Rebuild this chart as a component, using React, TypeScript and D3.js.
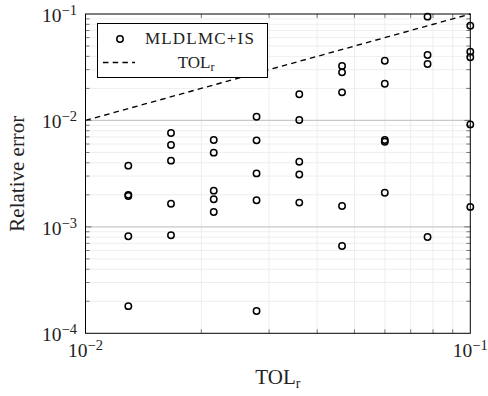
import React from "react";
import * as d3 from "d3";

// Relative tolerance levels (x) and the relative errors measured at each one (y)
const tolLevels = [0.01292, 0.01668, 0.02154, 0.02783, 0.03594, 0.04642, 0.05995, 0.07743, 0.1];
const relErrors: number[][] = [
  [0.00376, 0.00200, 0.00195, 0.000815, 0.00018],
  [0.00762, 0.00588, 0.00419, 0.00165, 0.000834],
  [0.00655, 0.00498, 0.00219, 0.00182, 0.00138],
  [0.01084, 0.0065, 0.00318, 0.00178, 0.000162],
  [0.01762, 0.01009, 0.00409, 0.0031, 0.00169],
  [0.0325, 0.0283, 0.01836, 0.00157, 0.000661],
  [0.0364, 0.0221, 0.00655, 0.00631, 0.00209],
  [0.0944, 0.0412, 0.0339, 0.000804],
  [0.0776, 0.0443, 0.0392, 0.00918, 0.00154],
];
const xTickExps = [-2, -1];
const yTickExps = [-4, -3, -2, -1];
const seriesLabel = "MLDLMC+IS";

const W = 488;
const H = 396;
const left = 85.5;
const right = 470.3;
const top = 14;
const bottom = 333.3;

const FONT = "'Liberation Serif', 'Times New Roman', serif";
const DASH = "5.5,4.2";

export default function App() {
  const x = d3.scaleLog().domain([1e-2, 1e-1]).range([left, right]);
  const y = d3.scaleLog().domain([1e-4, 1e-1]).range([bottom, top]);

  const yMinor: number[] = [];
  for (let e = -4; e <= -2; e++) for (let k = 2; k <= 9; k++) yMinor.push(k * Math.pow(10, e));
  const yMajorInner = [1e-3, 1e-2];
  const xMinor: number[] = [];
  for (let k = 2; k <= 9; k++) xMinor.push(k * 1e-2);

  const points: { tx: number; e: number }[] = [];
  tolLevels.forEach((t, i) => relErrors[i].forEach((e) => points.push({ tx: t, e })));

  const refLine = d3
    .line<number>()
    .x((d) => x(d))
    .y((d) => y(d))([1e-2, 1e-1]);

  const tickColor = "#444";

  return (
    <svg
      width={W}
      height={H}
      style={{ position: "absolute", left: 0, top: 0, background: "#fff" }}
      fontFamily={FONT}
    >
      <rect x={0} y={0} width={W} height={H} fill="#fff" />
      {/* grid */}
      <g>
        {yMinor.map((v, i) => (
          <line key={"ym" + i} x1={left} x2={right} y1={y(v)} y2={y(v)} stroke="#ececec" strokeWidth={0.9} />
        ))}
        {xMinor.map((v, i) => (
          <line key={"xm" + i} x1={x(v)} x2={x(v)} y1={top} y2={bottom} stroke="#ececec" strokeWidth={0.9} />
        ))}
        {yMajorInner.map((v, i) => (
          <line key={"yM" + i} x1={left} x2={right} y1={y(v)} y2={y(v)} stroke="#c8c8c8" strokeWidth={1.2} />
        ))}
      </g>

      {/* reference line TOL_r */}
      <path d={refLine || ""} fill="none" stroke="#000" strokeWidth={1.35} strokeDasharray={DASH} />

      {/* ticks */}
      <g stroke={tickColor} strokeWidth={0.7}>
        {yMinor.map((v, i) => (
          <g key={"yt" + i}>
            <line x1={left} x2={left + 4} y1={y(v)} y2={y(v)} />
            <line x1={right - 4} x2={right} y1={y(v)} y2={y(v)} />
          </g>
        ))}
        {yMajorInner.map((v, i) => (
          <g key={"yT" + i}>
            <line x1={left} x2={left + 6} y1={y(v)} y2={y(v)} />
            <line x1={right - 6} x2={right} y1={y(v)} y2={y(v)} />
          </g>
        ))}
        {xMinor.map((v, i) => (
          <g key={"xt" + i}>
            <line x1={x(v)} x2={x(v)} y1={bottom} y2={bottom - 4} />
            <line x1={x(v)} x2={x(v)} y1={top} y2={top + 4} />
          </g>
        ))}
      </g>

      {/* frame */}
      <rect x={left} y={top} width={right - left} height={bottom - top} fill="none" stroke="#000" strokeWidth={1} />

      {/* tick labels */}
      {yTickExps.map((e) => (
        <text key={"yl" + e} x={77} y={y(Math.pow(10, e)) + 8} textAnchor="end" fontSize={19.5} fill="#222">
          10
          <tspan fontSize={14.5} dy={-7}>
            {"\u2212" + Math.abs(e)}
          </tspan>
        </text>
      ))}
      {xTickExps.map((e) => (
        <text key={"xl" + e} x={x(Math.pow(10, e))} y={356.7} textAnchor="middle" fontSize={19.5} fill="#222">
          10
          <tspan fontSize={14.5} dy={-7}>
            {"\u2212" + Math.abs(e)}
          </tspan>
        </text>
      ))}

      {/* axis labels */}
      <text x={(left + right) / 2} y={384.3} textAnchor="middle" fontSize={21} fill="#222">
        TOL
        <tspan fontSize={14} dy={3.5}>
          r
        </tspan>
      </text>
      <text
        transform={`translate(24,${(top + bottom) / 2}) rotate(-90)`}
        textAnchor="middle"
        fontSize={21}
        fill="#222"
      >
        Relative error
      </text>

      {/* legend */}
      <g>
        <rect x={97.5} y={23.5} width={170} height={54} fill="#fff" stroke="#000" strokeWidth={1} />
        <circle cx={120} cy={39} r={3.2} fill="none" stroke="#000" strokeWidth={1.5} />
        <text x={200} y={44} textAnchor="middle" fontSize={17} letterSpacing={1.2} fill="#222">
          {seriesLabel}
        </text>
        <line x1={103} x2={135} y1={62.5} y2={62.5} stroke="#000" strokeWidth={1.35} strokeDasharray={DASH} />
        <text x={196} y={67.7} textAnchor="middle" fontSize={17} fill="#222">
          TOL
          <tspan fontSize={12} dy={3}>
            r
          </tspan>
        </text>
      </g>

      {/* data markers */}
      <g>
        {points.map((p, i) => (
          <circle key={"p" + i} cx={x(p.tx)} cy={y(p.e)} r={3.2} fill="none" stroke="#000" strokeWidth={1.5} />
        ))}
      </g>
    </svg>
  );
}
